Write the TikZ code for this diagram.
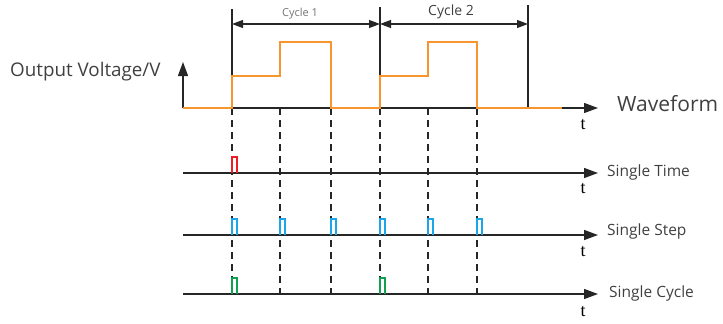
\documentclass[tikz,border=0pt]{standalone}
\usepackage{fontspec}
\setmainfont{Open Sans}
\newfontfamily\tfont{Liberation Serif}
\usetikzlibrary{arrows.meta}
\definecolor{wave}{HTML}{F7962F}
\definecolor{txt}{HTML}{404040}
\definecolor{pred}{HTML}{F01C24}
\definecolor{pblue}{HTML}{1AA6E8}
\definecolor{pgreen}{HTML}{10A050}
\tikzset{
  axis/.style={line width=1.3pt, draw=black!85, -{Triangle[length=14pt,width=10pt]}},
  guide/.style={line width=1.2pt, draw=black!85},
  dashguide/.style={line width=1.2pt, draw=black!85, dash pattern=on 7pt off 5pt},
  dim/.style={line width=1.1pt, draw=black!85, {Triangle[length=11pt,width=8pt]}-{Triangle[length=11pt,width=8pt]}},
  wavestyle/.style={line width=2.7pt, draw=wave, line join=miter},
  pulse/.style={line width=1.3pt},
  lab/.style={text=txt, anchor=west, inner sep=0pt},
  tlab/.style={font=\tfont\fontsize{18}{18}\selectfont, inner sep=0pt}
}
\begin{document}
\begin{tikzpicture}[x=1pt,y=-1pt]
\useasboundingbox (0,0) rectangle (723,324);
% axes coordinates
\coordinate (w0) at (183,108); \coordinate (w1) at (598,108);
\coordinate (a0) at (183,173); \coordinate (a1) at (598,173);
\coordinate (b0) at (183,235); \coordinate (b1) at (598,235);
\coordinate (c0) at (183,294); \coordinate (c1) at (598,294);
\coordinate (vtop) at (183,62);
% guide columns
\foreach \n/\x in {1/232,2/280,3/331,4/380,5/428,6/477}{
  \coordinate (g\n) at (\x,108);
  \coordinate (h\n) at (\x,294);
}
\coordinate (s1) at (232,9); \coordinate (s2) at (380,7); \coordinate (s3) at (528,5);
\coordinate (e1) at (232,108); \coordinate (e2) at (380,108); \coordinate (e3) at (528,108);
% dashed guides
\foreach \n in {1,...,6}{ \draw[dashguide] (g\n) -- (h\n); }
% solid guides
\foreach \n in {1,2,3}{ \draw[guide] (s\n) -- (e\n); }
% dimension arrows
\coordinate (d1) at (232,24); \coordinate (d2) at (380,24); \coordinate (d3) at (528,24);
\draw[dim] (d1) -- (d2);
\draw[dim] (d2) -- (d3);
\node[text=black!55, font=\fontsize{11}{11}\selectfont] (cy1) at (300,14) {Cycle 1};
\node[text=txt, font=\fontsize{14}{14}\selectfont] (cy2) at (451,12) {Cycle 2};
% axes
\draw[axis] (w0) -- (w1);
\draw[axis] (a0) -- (a1);
\draw[axis] (b0) -- (b1);
\draw[axis] (c0) -- (c1);
\draw[axis] (w0) -- (vtop);
% waveform
\draw[wavestyle] (183,108) -- (232,108) -- (232,76) -- (280,76) -- (280,42) -- (331,42) -- (331,108)
  -- (380,108) -- (380,76) -- (428,76) -- (428,42) -- (477,42) -- (477,108) -- (562,108);
% pulses
\draw[pulse, draw=pred] (232,173) -- (232,157) -- (237,157) -- (237,173);
\foreach \x in {232,280,331,380,428,477}{
  \draw[pulse, draw=pblue] (\x,235) -- (\x,219) -- (\x+5,219) -- (\x+5,235);
}
\foreach \x in {232,380}{
  \draw[pulse, draw=pgreen] (\x,294) -- (\x,278) -- (\x+5,278) -- (\x+5,294);
}
% t labels
\node[tlab] (t0) at (583,125) {t};
\node[tlab] (t1) at (583,189) {t};
\node[tlab] (t2) at (583,252) {t};
\node[tlab] (t3) at (583,312) {t};
% labels
\node[lab, font=\fontsize{21}{21}\selectfont] (wf) at (617,104) {Waveform};
\node[lab, font=\fontsize{15.5}{15.5}\selectfont] (st) at (607,172) {Single Time};
\node[lab, font=\fontsize{15.5}{15.5}\selectfont] (ss) at (607,231) {Single Step};
\node[lab, font=\fontsize{15.5}{15.5}\selectfont] (sc) at (609,293) {Single Cycle};
\node[lab, font=\fontsize{18.8}{18.8}\selectfont] (ov) at (10,72) {Output Voltage/V};
\end{tikzpicture}
\end{document}
